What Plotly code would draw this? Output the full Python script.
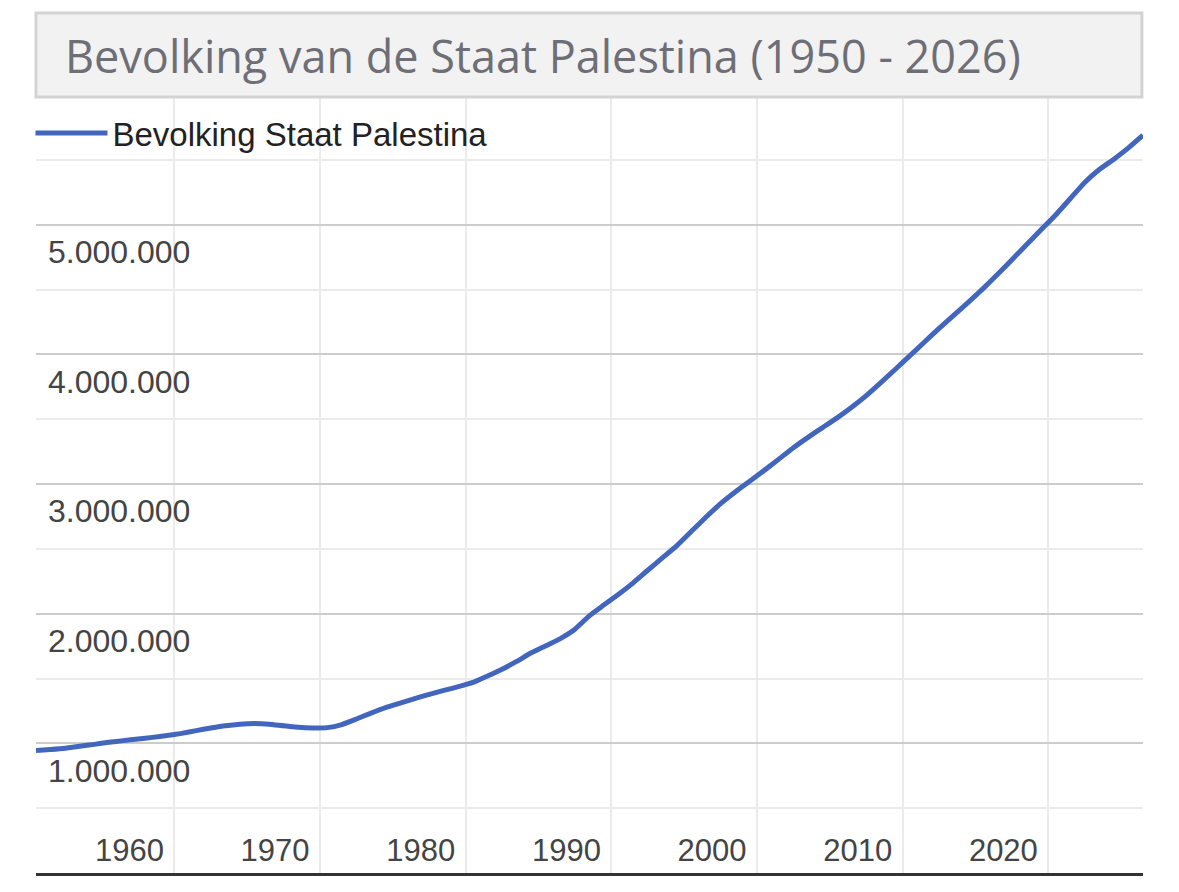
import plotly.graph_objects as go

# Data (population)
years = list(range(1950, 2027))
population = [
    944000, 952000, 962000, 977000, 992000, 1008000, 1021000, 1034000, 1046000, 1060000,   # 1950-1959
    1077000, 1098000, 1118000, 1136000, 1148000, 1153000, 1148000, 1135000, 1124000, 1119000,  # 1960-1969
    1121000, 1145000, 1188000, 1233000, 1275000, 1310000, 1345000, 1378000, 1408000, 1437000,  # 1970-1979
    1470000, 1520000, 1572000, 1632000, 1698000, 1752000, 1808000, 1880000, 1985000, 2068000,  # 1980-1989
    2150000, 2238000, 2335000, 2430000, 2525000, 2635000, 2745000, 2848000, 2938000, 3022000,  # 1990-1999
    3105000, 3192000, 3280000, 3360000, 3435000, 3510000, 3592000, 3682000, 3782000, 3885000,  # 2000-2009
    3990000, 4095000, 4200000, 4300000, 4400000, 4505000, 4615000, 4730000, 4845000, 4960000,  # 2010-2019
    5075000, 5200000, 5325000, 5425000, 5505000, 5592000, 5690000,                              # 2020-2026
]
series_name = "Bevolking Staat Palestina"
title_text = "Bevolking van de Staat Palestina (1950 - 2026)"
x_tick_years = [1960, 1970, 1980, 1990, 2000, 2010, 2020]
x_tick_labels = [str(y) for y in x_tick_years]
y_tick_values = [1000000, 2000000, 3000000, 4000000, 5000000]
y_tick_labels = ["1.000.000", "2.000.000", "3.000.000", "4.000.000", "5.000.000"]

x_dates = [f"{y}-07-01" for y in years]

fig = go.Figure()
fig.add_trace(go.Scatter(
    x=x_dates, y=population, mode="lines", name=series_name,
    line=dict(color="#4266be", width=5, shape="spline", smoothing=0.4),
    hoverinfo="skip",
))

fig.update_layout(
    width=1179, height=892,
    margin=dict(l=36, r=36, t=95, b=19),
    paper_bgcolor="white", plot_bgcolor="white",
    showlegend=True,
    legend=dict(
        x=-0.005, y=0.951, xanchor="left", yanchor="middle",
        bgcolor="rgba(0,0,0,0)", borderwidth=0,
        font=dict(family="Liberation Sans, Arial, sans-serif", size=33, color="#222222"),
        itemwidth=72,
    ),
    xaxis=dict(
        type="date",
        range=["1950-07-01", "2026-07-01"],
        tickmode="array",
        tickvals=[f"{y}-01-01" for y in x_tick_years],
        ticktext=x_tick_labels,
        showgrid=True, gridcolor="#ebebeb", gridwidth=2,
        showline=True, linecolor="#333333", linewidth=3,
        ticks="", zeroline=False,
        ticklabelposition="inside",
        ticklabeloverflow="allow",
        ticklabelshift=-45,
        ticklabelstandoff=9,
        tickfont=dict(family="Liberation Sans, Arial, sans-serif", size=31, color="#444444"),
        fixedrange=True,
    ),
    yaxis=dict(
        range=[0, 6000000],
        tickmode="array",
        tickvals=y_tick_values,
        ticktext=y_tick_labels,
        showgrid=True, gridcolor="#cccccc", gridwidth=2,
        minor=dict(tickmode="linear", tick0=0, dtick=500000, showgrid=True,
                   gridcolor="#ebebeb", gridwidth=2, ticks=""),
        showline=False, zeroline=False, ticks="",
        ticklabelposition="inside",
        ticklabeloverflow="allow",
        ticklabelshift=27,
        ticklabelstandoff=9,
        tickfont=dict(family="Liberation Sans, Arial, sans-serif", size=32, color="#444444"),
        fixedrange=True,
    ),
    shapes=[
        dict(type="rect", xref="paper", yref="paper",
             x0=0, x1=0.999, y0=0.9974, y1=1.1054,
             fillcolor="#f2f2f2", line=dict(color="#d3d3d3", width=3), layer="above"),
    ],
    annotations=[
        dict(text=title_text, xref="paper", yref="paper",
             x=0.0245, y=1.0514, xanchor="left", yanchor="middle", showarrow=False,
             font=dict(family="Open Sans, Noto Sans, sans-serif", size=45, color="#6e6e76")),
    ],
)

fig.write_html("out.html")
